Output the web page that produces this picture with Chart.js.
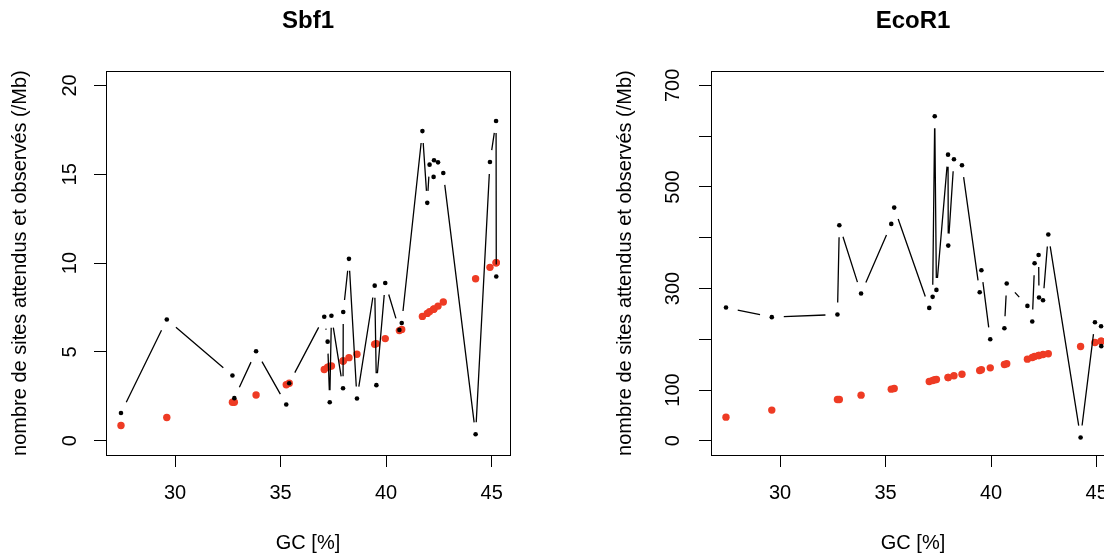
<!DOCTYPE html>
<html>
<head>
<meta charset="utf-8">
<script src="https://cdn.jsdelivr.net/npm/chart.js@4.4.1/dist/chart.umd.min.js"></script>
<style>
  body { margin: 0; width: 1104px; height: 555px; overflow: hidden; background: #fff; }
  .panel { position: absolute; top: 0; width: 605px; height: 555px; }
</style>
</head>
<body>
<div class="panel" style="left:0px"><canvas id="SbfChart" width="605" height="555"></canvas></div>
<div class="panel" style="left:605px"><canvas id="EcoChart" width="605" height="555"></canvas></div>
<script>
// GC content of each genome (%), same order in both panels
var gc = [27.44, 29.61, 32.72, 32.81, 33.84, 35.27, 35.41, 37.07, 37.23, 37.33, 37.41,
  37.96, 37.97, 38.24, 38.62, 39.46, 39.54, 39.96, 40.63, 40.74, 41.72, 41.95,
  42.06, 42.25, 42.27, 42.46, 42.71, 44.24, 44.92, 45.21, 45.22];

// Sbf1 sites per Mb
var sbfObserved = [1.56, 6.83, 3.67, 2.40, 5.04, 2.04, 3.24, 6.98, 5.58, 2.17, 7.04,
  2.96, 7.25, 10.24, 2.38, 8.73, 3.13, 8.88, 6.24, 6.63, 17.43, 13.39,
  15.54, 14.85, 15.79, 15.67, 15.07, 0.37, 15.69, 18.0, 9.25];
var sbfExpected = [0.86, 1.31, 2.17, 2.17, 2.58, 3.15, 3.24, 4.01, 4.14, 4.19, 4.21,
  4.49, 4.49, 4.68, 4.87, 5.43, 5.47, 5.75, 6.20, 6.27, 7.00, 7.17,
  7.27, 7.40, 7.42, 7.58, 7.81, 9.12, 9.76, 10.02, 10.02];

// EcoR1 sites per Mb
var ecoObserved = [262.4, 243.5, 248.7, 424.5, 290.0, 427.2, 459.3, 261.8, 283.5, 639.2, 297.2,
  563.6, 384.5, 554.5, 542.7, 292.7, 336.0, 200.1, 221.8, 309.7, 265.7, 234.9,
  349.7, 366.1, 282.2, 276.9, 406.2, 6.6, 233.6, 225.7, 186.4];
var ecoExpected = [46.6, 60.4, 81.3, 81.3, 89.9, 101.7, 103.0, 116.8, 118.7, 120.1, 120.7,
  124.6, 124.6, 128.0, 131.2, 138.4, 139.8, 143.7, 150.3, 151.6, 160.8, 164.0,
  166.0, 168.0, 168.0, 169.9, 171.3, 185.6, 193.5, 196.3, 196.3];

var sbfTicks = [0, 5, 10, 15, 20];
var ecoTicks = [0, 100, 300, 500, 700]; // labelled ticks (200, 400, 600 unlabelled)

var FONT = "'Liberation Sans', Arial, Helvetica, sans-serif";
var RED = '#EE3B24';

// R style "type = b" line: segments stop short of each point
var gapLines = {
  id: 'gapLines',
  afterDatasetDraw(chart, args) {
    if (args.index !== 1) return;
    const pts = chart.getDatasetMeta(0).data;
    const ctx = chart.ctx;
    const gap = 12;
    ctx.save();
    ctx.strokeStyle = '#000';
    ctx.lineWidth = 1.3;
    ctx.beginPath();
    for (let i = 0; i < pts.length - 1; i++) {
      const a = pts[i], b = pts[i + 1];
      const dx = b.x - a.x, dy = b.y - a.y;
      const d = Math.sqrt(dx * dx + dy * dy);
      if (d <= 2 * gap) continue;
      const ux = dx / d, uy = dy / d;
      ctx.moveTo(a.x + ux * gap, a.y + uy * gap);
      ctx.lineTo(b.x - ux * gap, b.y - uy * gap);
    }
    ctx.stroke();
    ctx.restore();
  }
};

var plotBox = {
  id: 'plotBox',
  afterDraw(chart) {
    const a = chart.chartArea;
    const ctx = chart.ctx;
    ctx.save();
    ctx.strokeStyle = '#000';
    ctx.lineWidth = 1;
    ctx.strokeRect(Math.round(a.left) + 0.5, Math.round(a.top) + 0.5,
      Math.round(a.right - a.left), Math.round(a.bottom - a.top));
    ctx.restore();
  }
};

function MakeChart(id, title, observed, expected, yMin, yMax, yStep, yLabels, yPad)
{
  new Chart(id, {
    type: 'scatter',
    data: {
      datasets: [{
        data: gc.map((x, i) => ({x: x, y: observed[i]})),
        pointRadius: 2.3,
        pointBackgroundColor: '#000',
        pointBorderWidth: 0,
        showLine: false
      }, {
        data: gc.map((x, i) => ({x: x, y: expected[i]})),
        pointRadius: 3.7,
        pointBackgroundColor: RED,
        pointBorderWidth: 0,
        showLine: false
      }]
    },
    options: {
      responsive: false,
      animation: false,
      layout: { padding: { left: 0, right: 95, top: 0, bottom: 0 } },
      plugins: {
        legend: { display: false },
        tooltip: { enabled: false },
        title: {
          display: true,
          text: title,
          fullSize: false,
          color: '#000',
          font: { family: FONT, size: 24, weight: 'bold' },
          padding: { top: 7, bottom: 35.4 }
        }
      },
      scales: {
        x: {
          type: 'linear',
          min: 26.73,
          max: 45.87,
          afterFit: (s) => { s.height = 100; },
          border: { display: false },
          grid: { drawOnChartArea: false, drawTicks: true, tickLength: 12, color: '#000', lineWidth: 1 },
          ticks: {
            stepSize: 5, includeBounds: false, autoSkip: false, maxRotation: 0,
            color: '#000', padding: 14.3, font: { family: FONT, size: 20 }
          },
          title: {
            display: true, text: 'GC [%]', color: '#000',
            font: { family: FONT, size: 20 }, padding: { top: 0, bottom: 0 }
          }
        },
        y: {
          type: 'linear',
          min: yMin,
          max: yMax,
          afterFit: (s) => { s.width = 106; },
          border: { display: false },
          grid: { drawOnChartArea: false, drawTicks: true, tickLength: 12, color: '#000', lineWidth: 1 },
          ticks: {
            stepSize: yStep, includeBounds: false, autoSkip: false,
            minRotation: 90, maxRotation: 90, crossAlign: 'center',
            color: '#000', padding: yPad, font: { family: FONT, size: 20 },
            callback: (v) => yLabels.indexOf(v) >= 0 ? String(v) : ''
          },
          title: {
            display: true, text: 'nombre de sites attendus et observés (/Mb)', color: '#000',
            font: { family: FONT, size: 20 }, padding: { top: 8, bottom: 0 }
          }
        }
      }
    },
    plugins: [gapLines, plotBox]
  });
}

MakeChart('SbfChart', 'Sbf1', sbfObserved, sbfExpected, -0.8, 20.8, 5, sbfTicks, 11.9);
MakeChart('EcoChart', 'EcoR1', ecoObserved, ecoExpected, -28, 728, 100, ecoTicks, 8.7);
</script>
</body>
</html>
